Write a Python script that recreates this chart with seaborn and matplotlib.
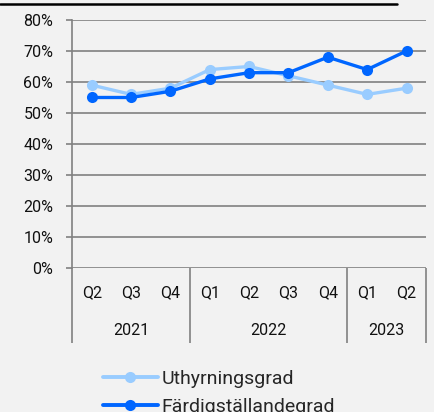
import pandas as pd
import numpy as np
import seaborn as sns
import matplotlib.pyplot as plt
from matplotlib.ticker import PercentFormatter
from matplotlib.lines import Line2D

quarters = ['Q2', 'Q3', 'Q4', 'Q1', 'Q2', 'Q3', 'Q4', 'Q1', 'Q2']
years = ['2021', '2022', '2023']
year_sizes = [3, 4, 2]
uthyrning = [0.59, 0.56, 0.58, 0.64, 0.65, 0.62, 0.59, 0.56, 0.58]
fardig = [0.55, 0.55, 0.57, 0.61, 0.63, 0.63, 0.68, 0.64, 0.70]
series = ['Uthyrningsgrad', 'Färdigställandegrad']
colors = ['#99ccff', '#0066ff']

sns.set_style('white')
plt.rcParams['font.family'] = ['Roboto', 'DejaVu Sans']
bg = '#f2f2f2'
grid_c = '#808080'
fs = 11.5

df = pd.DataFrame({
    'pos': list(range(len(quarters))) * 2,
    'value': uthyrning + fardig,
    'serie': [series[0]] * len(quarters) + [series[1]] * len(quarters),
})

fig = plt.figure(figsize=(4.34, 4.12), dpi=100, facecolor=bg)
ax = fig.add_axes([0.166, 0.3495, 0.816, 0.602])
ax.set_facecolor(bg)

sns.lineplot(data=df, x='pos', y='value', hue='serie', palette=colors,
             marker='o', markersize=8, markeredgewidth=0, linewidth=2.4,
             ax=ax, legend=False)

ax.set_xlim(-0.5, len(quarters) - 0.5)
ax.set_ylim(0, 0.8)
ax.set_yticks(np.arange(0, 0.81, 0.1))
ax.yaxis.set_major_formatter(PercentFormatter(1.0, decimals=0))
ax.grid(axis='y', color=grid_c, linewidth=1.2)
ax.set_axisbelow(True)
for s in ['top', 'right', 'bottom']:
    ax.spines[s].set_visible(False)
ax.spines['left'].set_color(grid_c)
ax.spines['left'].set_linewidth(1.2)
ax.tick_params(axis='y', length=4.5, width=1.2, color=grid_c, labelsize=fs,
               labelcolor='#111111', pad=9, left=True)

# quarter labels + group separators
ax.set_xticks(range(len(quarters)))
ax.set_xticklabels(quarters)
ax.tick_params(axis='x', which='major', length=0, pad=12, labelsize=fs,
               labelcolor='#111111')
bounds = np.cumsum([0] + year_sizes) - 0.5
ax.set_xticks(bounds, minor=True)
ax.tick_params(axis='x', which='minor', length=54, width=1.2, color=grid_c,
               bottom=True)
ax.set_xlabel('')
ax.set_ylabel('')
for i, yr in enumerate(years):
    mid = (bounds[i] + bounds[i + 1]) / 2
    ax.annotate(yr, xy=(mid, 0), xycoords=('data', 'axes fraction'),
                xytext=(0, -45), textcoords='offset points',
                ha='center', va='center', fontsize=fs, color='#111111')

# top rule
fig.add_artist(Line2D([0, 397 / 434], [1 - 4 / 412, 1 - 4 / 412],
                      color='black', linewidth=1.8))

handles = [Line2D([], [], color=c, marker='o', markersize=8, linewidth=2.8,
                  markeredgewidth=0) for c in colors]
fig.legend(handles, series, loc='upper center', bbox_to_anchor=(0.505, 0.125),
           frameon=False, fontsize=14, handlelength=2.8, handletextpad=0.2,
           labelspacing=0.5, borderpad=0)

fig.savefig('out.png', dpi=100, facecolor=bg)
